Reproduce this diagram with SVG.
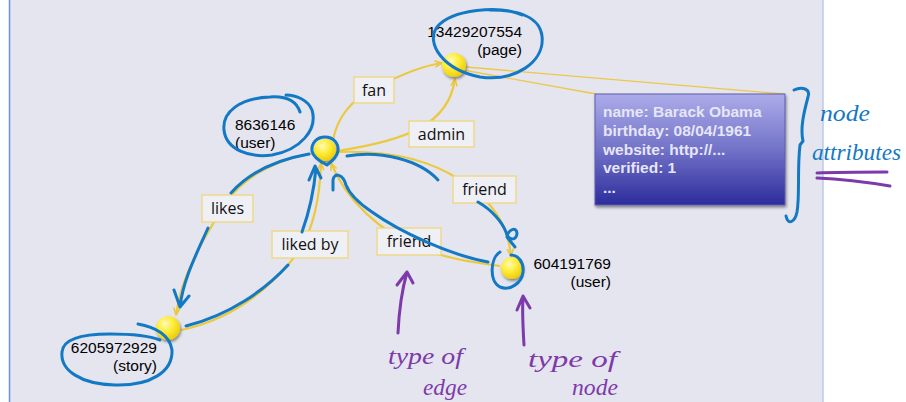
<svg xmlns="http://www.w3.org/2000/svg" width="906" height="402" viewBox="0 0 906 402">
  <defs>
    <radialGradient id="ball" cx="0.38" cy="0.32" r="0.75">
      <stop offset="0" stop-color="#fffbb8"/>
      <stop offset="0.45" stop-color="#ffec3a"/>
      <stop offset="1" stop-color="#e9c800"/>
    </radialGradient>
    <linearGradient id="attrFill" x1="0" y1="0" x2="0" y2="1">
      <stop offset="0" stop-color="#acacea"/>
      <stop offset="0.5" stop-color="#7272c8"/>
      <stop offset="1" stop-color="#2c2c9c"/>
    </linearGradient>
    <filter id="shadow" x="-10%" y="-10%" width="130%" height="130%">
      <feGaussianBlur in="SourceAlpha" stdDeviation="1.5"/>
      <feOffset dx="1" dy="1.5" result="b"/>
      <feComponentTransfer><feFuncA type="linear" slope="0.45"/></feComponentTransfer>
      <feMerge><feMergeNode/><feMergeNode in="SourceGraphic"/></feMerge>
    </filter>
    <marker id="arrow" viewBox="0 0 10 10" refX="9" refY="5" markerWidth="9" markerHeight="9" markerUnits="userSpaceOnUse" orient="auto">
      <path d="M1,1.5 L9,5 L1,8.5" fill="none" stroke="#ebc93c" stroke-width="1.8" stroke-linejoin="round"/>
    </marker>
  </defs>
  <style>
    .edge { fill: none; stroke: #ebc93c; stroke-width: 2.2; }
    .callout { fill: none; stroke: #ecc84a; stroke-width: 1.3; }
    .lbox { fill: #efeff6; stroke: #f0d67a; stroke-width: 1.3; }
    .ltext { font-family: "Open Sans", "Liberation Sans", sans-serif; font-size: 16px; fill: #111; text-anchor: middle; }
    .ntext { font-family: "Liberation Sans", "Open Sans", sans-serif; font-size: 15.5px; fill: #000; }
    .atext { font-family: "Liberation Sans", "Open Sans", sans-serif; font-size: 15.5px; font-weight: bold; fill: #e6e6f6; }
    .ink { fill: none; stroke: #1479c4; stroke-width: 3; stroke-linecap: round; stroke-linejoin: round; }
    .violet { fill: none; stroke: #7d3aaa; stroke-width: 3; stroke-linecap: round; stroke-linejoin: round; }
    .hand { font-family: "Liberation Serif", "DejaVu Serif", serif; font-style: italic; }
  </style>

  <!-- canvas -->
  <rect x="0" y="0" width="906" height="402" fill="#ffffff"/>
  <rect x="9" y="0" width="814" height="402" fill="#e5e5ef"/>
  <line x1="9.5" y1="0" x2="9.5" y2="402" stroke="#6b93d6" stroke-width="1.5"/>
  <line x1="823" y1="0" x2="823" y2="402" stroke="#a9c0e2" stroke-width="1.2"/>

  <!-- connectors -->
  <g id="connectors">
    <path class="edge" marker-end="url(#arrow)" d="M333,140 C 338,115 352,100 375,88 C 398,76 420,66 442,63"/>
    <path class="edge" marker-end="url(#arrow)" d="M337,151 C 370,146 400,139 420,128 C 440,117 452,100 455,79"/>
    <path class="edge" marker-end="url(#arrow)" d="M337,152 C 390,150 430,160 460,180 C 494,202 508,225 511,256"/>
    <path class="edge" marker-end="url(#arrow)" d="M500,266 C 470,262 445,258 420,248 C 380,232 346,200 331,163"/>
    <path class="edge" marker-end="url(#arrow)" d="M314,153 C 272,160 242,180 228,200 C 210,228 182,270 176,315"/>
    <path class="edge" marker-end="url(#arrow)" d="M181,330 C 230,320 270,290 300,250 C 315,225 320,195 321,163"/>
    <!-- attribute callout -->
    <line class="callout" x1="466" y1="67" x2="784" y2="94"/>
    <line class="callout" x1="463" y1="70" x2="596" y2="94"/>
  </g>

  <!-- edge labels -->
  <g id="label-fan"><rect class="lbox" x="354" y="77" width="40" height="26"/><text class="ltext" x="374" y="96">fan</text></g>
  <g id="label-admin"><rect class="lbox" x="409" y="121" width="65" height="26"/><text class="ltext" x="441.5" y="140">admin</text></g>
  <g id="label-friend-out"><rect class="lbox" x="453" y="176" width="63" height="27"/><text class="ltext" x="484.5" y="195">friend</text></g>
  <g id="label-friend-in"><rect class="lbox" x="377" y="228" width="64" height="27"/><text class="ltext" x="409" y="247">friend</text></g>
  <g id="label-likes"><rect class="lbox" x="202" y="195" width="51" height="27"/><text class="ltext" x="227.5" y="214">likes</text></g>
  <g id="label-likedby"><rect class="lbox" x="272" y="231" width="76" height="27"/><text class="ltext" x="310" y="250">liked by</text></g>

  <!-- attribute panel -->
  <g id="attributes">
    <rect x="595" y="94" width="190" height="111" fill="url(#attrFill)" stroke="#5c5cb0" stroke-width="1" filter="url(#shadow)"/>
    <text class="atext" x="603" y="117">name: Barack Obama</text>
    <text class="atext" x="603" y="136">birthday: 08/04/1961</text>
    <text class="atext" x="603" y="154.5">website: http://...</text>
    <text class="atext" x="603" y="173">verified: 1</text>
    <text class="atext" x="603" y="193">...</text>
  </g>

  <!-- nodes -->
  <g id="node-page">
    <circle cx="454" cy="65" r="12" fill="url(#ball)" filter="url(#shadow)"/>
    <text class="ntext" x="522" y="37" text-anchor="end">13429207554</text>
    <text class="ntext" x="522" y="55" text-anchor="end">(page)</text>
  </g>
  <g id="node-user1">
    <circle cx="325" cy="150" r="11" fill="url(#ball)" filter="url(#shadow)"/>
    <text class="ntext" x="235" y="130">8636146</text>
    <text class="ntext" x="235" y="148">(user)</text>
  </g>
  <g id="node-story">
    <circle cx="168" cy="328" r="12" fill="url(#ball)" filter="url(#shadow)"/>
    <text class="ntext" x="157" y="353" text-anchor="end">6205972929</text>
    <text class="ntext" x="157" y="371" text-anchor="end">(story)</text>
  </g>
  <g id="node-user2">
    <circle cx="512" cy="268" r="11" fill="url(#ball)" filter="url(#shadow)"/>
    <text class="ntext" x="611" y="269" text-anchor="end">604191769</text>
    <text class="ntext" x="611" y="287" text-anchor="end">(user)</text>
  </g>

  <!-- blue pen notes -->
  <g id="pen-blue">
    <path class="ink" d="M522,15 C 500,5 452,9 437,27 C 425,44 444,70 480,77 C 515,82 545,62 542,36 C 540,18 520,10 490,10"/>
    <path class="ink" d="M300,112 C 296,100 285,96 270,97 C 240,98 222,112 224,130 C 226,150 250,158 272,155 C 300,150 318,130 312,110 C 308,100 296,95 286,95"/>
    <path class="ink" d="M325,137 C 333,137 339,143 338,151 C 337,157 331,162 327,165 C 321,162 313,157 312,151 C 311,143 317,137 325,137 Z"/>
    <path class="ink" d="M309,154 C 275,160 248,174 231,193"/>
    <path class="ink" d="M208,228 C 196,255 183,280 180,307 M174,290 L180,307 L189,296"/>
    <path class="ink" d="M186,326 C 230,315 265,290 288,265"/>
    <path class="ink" d="M302,232 C 310,210 314,190 316,168 M309,180 L315,166 L321,178"/>
    <path class="ink" d="M488,262 C 450,255 400,232 372,212 C 360,204 350,195 346,185 C 343,174 334,172 333,180 L333,190"/>
    <path class="ink" d="M347,156 C 380,150 420,160 438,180"/>
    <path class="ink" d="M478,202 C 492,210 502,222 506,232 C 508,241 517,241 517,233 C 516,226 508,230 507,237 L515,247"/>
    <path class="ink" d="M500,252 C 490,258 489,282 500,287 C 510,291 522,283 523,272 C 524,262 518,255 511,255"/>
    <path class="ink" d="M138,324 C 155,327 170,335 172,350 C 173,372 150,386 115,385 C 80,384 60,370 62,352 C 63,338 85,334 110,334 C 130,334 150,336 160,340"/>
    <path class="ink" d="M794,90 C 802,86 811,89 808,97 C 804,112 800,128 803,141 L800,145 C 797,170 800,195 797,212 C 795,222 788,226 786,216"/>
    <text class="hand" x="820" y="121" font-size="24" fill="#1479c4" textLength="50" lengthAdjust="spacingAndGlyphs">node</text>
    <text class="hand" x="812" y="160" font-size="23" fill="#1479c4" textLength="89" lengthAdjust="spacingAndGlyphs">attributes</text>
  </g>

  <!-- violet pen notes -->
  <g id="pen-violet">
    <path class="violet" d="M817,173 C 840,172 865,172 887,172"/>
    <path class="violet" d="M817,178 C 840,179 866,182 890,186"/>
    <path class="violet" d="M398,333 C 399,310 402,290 407,272 M397,285 L407,272 L413,283"/>
    <path class="violet" d="M524,345 C 523,328 522,312 523,297 M517,310 L523,296 L530,308"/>
    <text class="hand" x="388" y="364" font-size="23" fill="#7d3aaa" textLength="75" lengthAdjust="spacingAndGlyphs">type of</text>
    <text class="hand" x="423" y="395" font-size="23" fill="#7d3aaa" textLength="44" lengthAdjust="spacingAndGlyphs">edge</text>
    <text class="hand" x="528" y="367" font-size="23" fill="#7d3aaa" textLength="89" lengthAdjust="spacingAndGlyphs">type of</text>
    <text class="hand" x="572" y="395" font-size="23" fill="#7d3aaa" textLength="46" lengthAdjust="spacingAndGlyphs">node</text>
  </g>
</svg>
